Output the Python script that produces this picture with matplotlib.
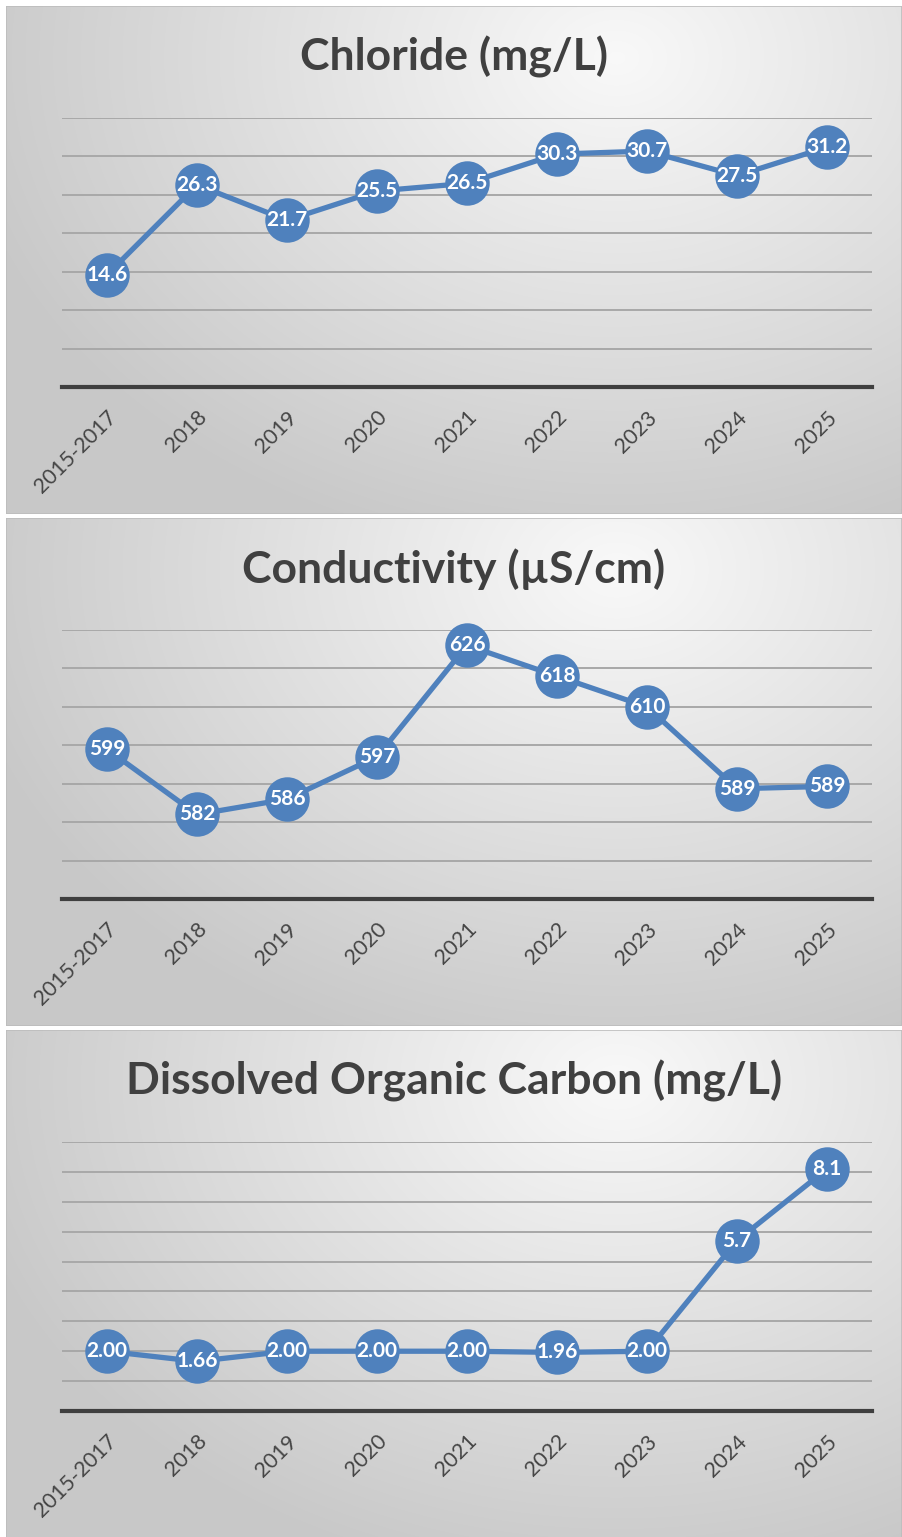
import numpy as np
import matplotlib
matplotlib.use("Agg")
import matplotlib.pyplot as plt
from matplotlib.patches import Rectangle

# --- datos ---
categorias = ["2015-2017", "2018", "2019", "2020", "2021", "2022", "2023", "2024", "2025"]

cloruro = [14.6, 26.3, 21.7, 25.5, 26.5, 30.3, 30.7, 27.5, 31.2]
conductividad = [599, 582, 586, 597, 626, 618, 610, 588.7, 589.3]
carbono = [2.00, 1.66, 2.00, 2.00, 2.00, 1.96, 2.00, 5.7, 8.1]
carbono_dec = [2, 2, 2, 2, 2, 2, 2, 1, 1]

titulos = ["Chloride (mg/L)", "Conductivity (\u00b5S/cm)", "Dissolved Organic Carbon (mg/L)"]

# --- estilo ---
W, H = 902, 1537
AZUL = "#4F81BD"
FUENTE = "Lato"

fig = plt.figure(figsize=(W / 100, H / 100), dpi=100)
fig.patch.set_facecolor("white")


def rect(x0, y0, x1, y1):
    return [x0 / W, 1 - y1 / H, (x1 - x0) / W, (y1 - y0) / H]


def fondo(y0, y1):
    ax = fig.add_axes(rect(6, y0, 902, y1))
    h, w = 200, 300
    yy, xx = np.mgrid[0:h, 0:w]
    d = np.sqrt(((xx / w - 0.68) * 1.0) ** 2 + ((yy / h - 0.1) * 0.75) ** 2)
    d = np.clip(d / 0.75, 0, 1)
    v = 0.975 - d * 0.19
    img = np.dstack([v, v, v])
    ax.imshow(img, aspect="auto", extent=[0, 1, 0, 1], interpolation="bilinear")
    ax.add_patch(Rectangle((0, 0), 1, 1, fill=False, ec="#bdbdbd", lw=1.2,
                           transform=ax.transAxes))
    ax.set_axis_off()


def panel(top, valores, ymin, ymax, paso, titulo, etiquetas):
    fondo(top, top + 508)
    ax = fig.add_axes(rect(62, top + 112, 872, top + 381))
    ax.patch.set_alpha(0)
    ax.set_xlim(-0.5, len(categorias) - 0.5)
    ax.set_ylim(ymin, ymax)
    ax.set_yticks(np.arange(ymin, ymax + paso / 2, paso))
    ax.yaxis.grid(True, color="#a8a8a8", lw=1.4)
    ax.set_axisbelow(True)
    for s in ["top", "left", "right"]:
        ax.spines[s].set_visible(False)
    ax.spines["bottom"].set_color("#3f3f3f")
    ax.spines["bottom"].set_linewidth(3)
    ax.tick_params(left=False, bottom=False, labelleft=False)
    x = np.arange(len(categorias))
    ax.set_xticks(x)
    ax.set_xticklabels(categorias, rotation=45, ha="right", rotation_mode="anchor",
                       fontsize=15.5, color="#454545", family=FUENTE)
    ax.tick_params(axis="x", pad=11)
    ax.plot(x, valores, color=AZUL, lw=3.8, zorder=3, clip_on=False,
            solid_capstyle="round")
    ax.plot(x, valores, "o", color=AZUL, ms=32, mew=0, zorder=4, clip_on=False)
    for xi, yi, t in zip(x, valores, etiquetas):
        ax.text(xi, yi, t, ha="center", va="center", color="white", fontsize=15,
                fontweight="bold", family=FUENTE, zorder=5, clip_on=False)
    fig.text(454 / W, 1 - (top + 51) / H, titulo, ha="center", va="center",
             fontsize=32, fontweight="bold", color="#404040", family=FUENTE)


panel(6, cloruro, 0, 35, 5, titulos[0], [f"{v:.1f}" for v in cloruro])
panel(518, conductividad, 560, 630, 10, titulos[1], [f"{v:.0f}" for v in conductividad])
panel(1030, carbono, 0, 9, 1, titulos[2],
      [f"{v:.{d}f}" for v, d in zip(carbono, carbono_dec)])

fig.savefig("out.png", dpi=100)
